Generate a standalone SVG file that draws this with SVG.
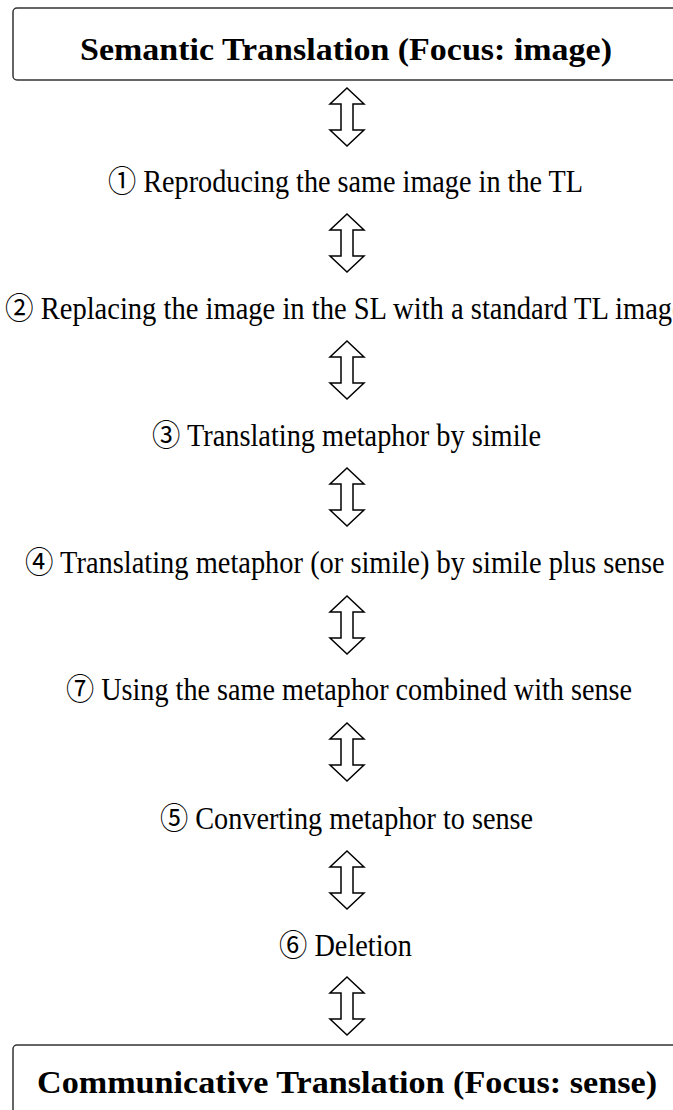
<svg xmlns="http://www.w3.org/2000/svg" width="673" height="1110" viewBox="0 0 673 1110">
  <style>
    .box { fill: #ffffff; stroke: #333333; stroke-width: 1.5; }
    .title { font-family: "Liberation Serif", "Times New Roman", serif; font-weight: bold; font-size: 32px; fill: #000000; }
    .step { font-family: "Liberation Serif", "Noto Sans CJK JP", serif; font-size: 31px; fill: #000000; }
    .arrow { fill: #ffffff; stroke: #000000; stroke-width: 1.5; stroke-linejoin: miter; }
  </style>
  <defs>
    <polygon id="dbl" class="arrow" points="0,-29 17,-13 6,-13 6,13 17,13 0,29 -17,13 -6,13 -6,-13 -17,-13"/>
  </defs>
  <rect width="673" height="1110" fill="#ffffff"/>

  <g id="node-semantic">
    <rect class="box" x="13" y="8" width="720" height="72" rx="4"/>
    <text class="title" x="80" y="60" textLength="532" lengthAdjust="spacingAndGlyphs">Semantic Translation (Focus: image)</text>
  </g>

  <g transform="scale(0.91,1)">
    <g id="node-1">
      <text class="step" x="118.7" y="192" textLength="522" lengthAdjust="spacingAndGlyphs">① Reproducing the same image in the TL</text>
    </g>
    <g id="node-2">
      <text class="step" x="5.5" y="319" textLength="747" lengthAdjust="spacingAndGlyphs">② Replacing the image in the SL with a standard TL image</text>
    </g>
    <g id="node-3">
      <text class="step" x="167" y="446" textLength="427.5" lengthAdjust="spacingAndGlyphs">③ Translating metaphor by simile</text>
    </g>
    <g id="node-4">
      <text class="step" x="27.5" y="573" textLength="703" lengthAdjust="spacingAndGlyphs">④ Translating metaphor (or simile) by simile plus sense</text>
    </g>
    <g id="node-7">
      <text class="step" x="72.5" y="700" textLength="622" lengthAdjust="spacingAndGlyphs">⑦ Using the same metaphor combined with sense</text>
    </g>
    <g id="node-5">
      <text class="step" x="175.8" y="829" textLength="410" lengthAdjust="spacingAndGlyphs">⑤ Converting metaphor to sense</text>
    </g>
    <g id="node-6">
      <text class="step" x="306.6" y="956" textLength="146" lengthAdjust="spacingAndGlyphs">⑥ Deletion</text>
    </g>
  </g>

  <g id="node-communicative">
    <rect class="box" x="13" y="1045" width="720" height="90" rx="4"/>
    <text class="title" x="37" y="1093" textLength="620" lengthAdjust="spacingAndGlyphs">Communicative Translation (Focus: sense)</text>
  </g>

  <g id="connectors">
    <use href="#dbl" x="347" y="117"/>
    <use href="#dbl" x="347" y="243"/>
    <use href="#dbl" x="347" y="370"/>
    <use href="#dbl" x="347" y="497"/>
    <use href="#dbl" x="347" y="625"/>
    <use href="#dbl" x="347" y="752"/>
    <use href="#dbl" x="347" y="880"/>
    <use href="#dbl" x="347" y="1006"/>
  </g>
</svg>
